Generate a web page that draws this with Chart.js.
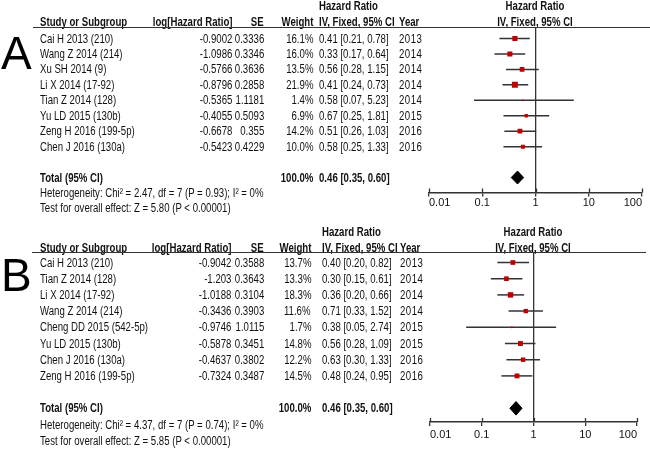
<!DOCTYPE html>
<html><head><meta charset="utf-8">
<script src="https://cdn.jsdelivr.net/npm/chart.js@4.4.1/dist/chart.umd.min.js"></script>
<style>
html,body{margin:0;padding:0;background:#fff;}
#wrap{position:relative;width:650px;height:452px;overflow:hidden;font-family:"Liberation Sans",Arial,sans-serif;font-size:12.5px;color:#111;}
.t{position:absolute;white-space:nowrap;line-height:14px;height:14px;transform:scaleX(0.77);transform-origin:left center;}
.t.r{transform-origin:right center;}
.t.c{transform-origin:center center;text-align:center;}
.t.n{letter-spacing:0.6px;}
.b{font-weight:bold;}
canvas{position:absolute;left:0;}
.hl{position:absolute;height:0;border-top:1.5px solid #333;}
.big{position:absolute;font-family:"Liberation Sans",Arial,sans-serif;font-size:46px;line-height:46px;color:#000;}
</style></head>
<body><div id="wrap">
<canvas id="cA" width="650" height="226" style="top:0px"></canvas>
<canvas id="cB" width="650" height="226" style="top:226px"></canvas>
</div>
<script>
// ---------- data: panel A ----------
const studiesA = ["Cai H 2013 (210)","Wang Z 2014 (214)","Xu SH 2014 (9)","Li X 2014 (17-92)","Tian Z 2014 (128)","Yu LD 2015 (130b)","Zeng H 2016 (199-5p)","Chen J 2016 (130a)"];
const logHRA = [-0.9002,-1.0986,-0.5766,-0.8796,-0.5365,-0.4055,-0.6678,-0.5423];
const seA = [0.3336,0.3346,0.3636,0.2858,1.1181,0.5093,0.355,0.4229];
const weightA = [16.1,16.0,13.5,21.9,1.4,6.9,14.2,10.0];
const hrA = [0.41,0.33,0.56,0.41,0.58,0.67,0.51,0.58];
const lowA = [0.21,0.17,0.28,0.24,0.07,0.25,0.26,0.25];
const highA = [0.78,0.64,1.15,0.73,5.23,1.81,1.03,1.33];
const yearA = [2013,2014,2014,2014,2014,2015,2016,2016];
const totalA = [0.46,0.35,0.60];
const totalWeightA = 100.0;
const hetA = "Heterogeneity: Chi\u00B2 = 2.47, df = 7 (P = 0.93); I\u00B2 = 0%";
const testA = "Test for overall effect: Z = 5.80 (P < 0.00001)";

// ---------- data: panel B ----------
const studiesB = ["Cai H 2013 (210)","Tian Z 2014 (128)","Li X 2014 (17-92)","Wang Z 2014 (214)","Cheng DD 2015 (542-5p)","Yu LD 2015 (130b)","Chen J 2016 (130a)","Zeng H 2016 (199-5p)"];
const logHRB = [-0.9042,-1.203,-1.0188,-0.3436,-0.9746,-0.5878,-0.4637,-0.7324];
const seB = [0.3588,0.3643,0.3104,0.3903,1.0115,0.3451,0.3802,0.3487];
const weightB = [13.7,13.3,18.3,11.6,1.7,14.8,12.2,14.5];
const hrB = [0.40,0.30,0.36,0.71,0.38,0.56,0.63,0.48];
const lowB = [0.20,0.15,0.20,0.33,0.05,0.28,0.30,0.24];
const highB = [0.82,0.61,0.66,1.52,2.74,1.09,1.33,0.95];
const yearB = [2013,2014,2014,2014,2015,2015,2016,2016];
const totalB = [0.46,0.35,0.60];
const totalWeightB = 100.0;
const hetB = "Heterogeneity: Chi\u00B2 = 4.37, df = 7 (P = 0.74); I\u00B2 = 0%";
const testB = "Test for overall effect: Z = 5.85 (P < 0.00001)";

// ---------- axis ----------
const tickValues = [0.01,0.1,1,10,100];
const tickLabels = ["0.01","0.1","1","10","100"];

const FONT = '"Liberation Sans",Arial,sans-serif';
const wrap = document.getElementById('wrap');

function addText(txt, x, y, bold, align, num){
  const d = document.createElement('div');
  d.className = 't' + (bold ? ' b' : '') + (align ? ' ' + align : '') + (num ? ' n' : '');
  d.textContent = txt;
  if (align === 'r') d.style.right = (650 - x) + 'px';
  else if (align === 'c') { d.style.left = (x - 100) + 'px'; d.style.width = '200px'; }
  else d.style.left = x + 'px';
  d.style.top = (y - 7) + 'px';
  wrap.appendChild(d);
}
function hline(x0, x1, y){
  const d = document.createElement('div');
  d.className = 'hl';
  d.style.left = x0 + 'px'; d.style.width = (x1 - x0) + 'px'; d.style.top = (y - 0.75) + 'px';
  wrap.appendChild(d);
}
function ci(h,l,u){ return h.toFixed(2) + ' [' + l.toFixed(2) + ', ' + u.toFixed(2) + ']'; }

const upTicks = {
  id: 'upTicks',
  afterDraw(chart){
    const s = chart.scales.x, ctx = chart.ctx;
    ctx.save(); ctx.strokeStyle = '#333'; ctx.lineWidth = 1.3;
    s.ticks.forEach(t => {
      const x = Math.round(s.getPixelForValue(t.value)) + 0.5;
      ctx.beginPath(); ctx.moveTo(x, s.top - 4); ctx.lineTo(x, s.top); ctx.stroke();
    });
    ctx.restore();
  }
};

function panel(P, names, lhr, se, w, hr, lo, hi, yr, tot, totW, het, test){
  const C = P.cols;
  const big = document.createElement('div');
  big.className = 'big'; big.textContent = P.letter;
  big.style.left = P.letterX + 'px'; big.style.top = P.letterY + 'px';
  wrap.appendChild(big);
  addText('Hazard Ratio', C.ciL, P.hdr1, true);
  addText('Hazard Ratio', C.plotC, P.hdr1, true, 'c');
  addText('Study or Subgroup', C.name, P.hdr2, true);
  addText('log[Hazard Ratio]', C.logR, P.hdr2, true, 'r');
  addText('SE', C.seR, P.hdr2, true, 'r');
  addText('Weight', C.wR, P.hdr2, true, 'r');
  addText('IV, Fixed, 95% CI', C.ciL, P.hdr2, true);
  addText('Year', C.yearL, P.hdr2, true);
  addText('IV, Fixed, 95% CI', C.plotC, P.hdr2, true, 'c');
  hline(P.lineX0, P.lineX1, P.underline);
  names.forEach((n, i) => {
    const y = P.first + i * P.step;
    addText(n, C.name, y);
    addText(String(lhr[i]), C.logR, y, false, 'r');
    addText(String(se[i]), C.seR, y, false, 'r');
    addText(w[i].toFixed(1) + '%', C.wR, y, false, 'r');
    addText(ci(hr[i], lo[i], hi[i]), C.ciL, y);
    addText(String(yr[i]), C.yearL, y, false, null, true);
  });
  const n = names.length;
  const yt = P.first + (n + 1) * P.step;
  addText('Total (95% CI)', C.name, yt, true);
  addText(totW.toFixed(1) + '%', C.wR, yt, true, 'r');
  addText(ci(tot[0], tot[1], tot[2]), C.ciL, yt, true);
  addText(het, C.name, yt + P.step);
  addText(test, C.name, yt + 2 * P.step);

  const totIdx = n + 1;
  const datasets = [];
  hr.forEach((v, i) => {
    datasets.push({data: [{x: lo[i], y: i}, {x: hi[i], y: i}], showLine: true, borderColor: '#333', borderWidth: 1.5, pointRadius: 0, order: 2});
  });
  datasets.push({data: hr.map((v, i) => ({x: v, y: i})), pointStyle: 'rect', pointRadius: w.map(x => 0.9 * Math.sqrt(x)), backgroundColor: '#c00000', borderWidth: 0, order: 1});
  datasets.push({data: [{x: tot[1], y: totIdx}, {x: tot[0], y: totIdx - 0.42}, {x: tot[2], y: totIdx}, {x: tot[0], y: totIdx + 0.42}, {x: tot[1], y: totIdx}],
    showLine: true, fill: 'shape', backgroundColor: '#000', borderColor: '#000', borderWidth: 1, pointRadius: 0, tension: 0, order: 0});
  const top = P.underline - P.canvasTop;
  const axisY = P.axisY - P.canvasTop;
  new Chart(document.getElementById(P.canvas), {
    type: 'scatter',
    data: {datasets},
    plugins: [upTicks],
    options: {
      responsive: false, animation: false,
      layout: {padding: {left: P.axisL, right: 650 - P.axisR, top: top, bottom: 226 - axisY - 20}},
      plugins: {legend: {display: false}, tooltip: {enabled: false}},
      scales: {
        x: {
          type: 'logarithmic', min: 0.01, max: 100, position: 'bottom',
          afterBuildTicks: s => { s.ticks = tickValues.map(v => ({value: v, major: true})); },
          afterFit: s => { s.height = 20; },
          ticks: {callback: (v, i) => tickLabels[i], autoSkip: false, maxRotation: 0, minRotation: 0, align: 'inner', padding: P.labelPad, color: '#111', font: {family: FONT, size: 11}},
          grid: {color: c => (c.tick && c.tick.value === 1) ? '#333' : 'rgba(0,0,0,0)', lineWidth: 1.3, tickColor: '#333', tickLength: 4, drawOnChartArea: true},
          border: {display: true, color: '#333', width: 1.5}
        },
        y: {type: 'linear', reverse: true, display: false,
          min: (P.underline - P.first) / P.step, max: (P.axisY - P.first) / P.step}
      }
    }
  });
}

panel({letter: 'A', letterX: 1, letterY: 30, canvas: 'cA', canvasTop: 0, hdr1: 6, hdr2: 22, underline: 27.5, lineX0: 33, lineX1: 650,
  first: 38.5, step: 15.45, axisY: 192.5, axisL: 429, axisR: 642, labelPad: 0,
  cols: {name: 40, logR: 232, seR: 264, wR: 313, ciL: 319, yearL: 399, plotC: 535}},
  studiesA, logHRA, seA, weightA, hrA, lowA, highA, yearA, totalA, totalWeightA, hetA, testA);

panel({letter: 'B', letterX: 1, letterY: 252, canvas: 'cB', canvasTop: 226, hdr1: 232, hdr2: 248, underline: 253, lineX0: 32, lineX1: 646,
  first: 262.5, step: 16.2, axisY: 422, axisL: 430, axisR: 637, labelPad: 2,
  cols: {name: 40, logR: 231, seR: 264, wR: 311, ciL: 322, yearL: 400, plotC: 533}},
  studiesB, logHRB, seB, weightB, hrB, lowB, highB, yearB, totalB, totalWeightB, hetB, testB);
</script>
</body></html>
